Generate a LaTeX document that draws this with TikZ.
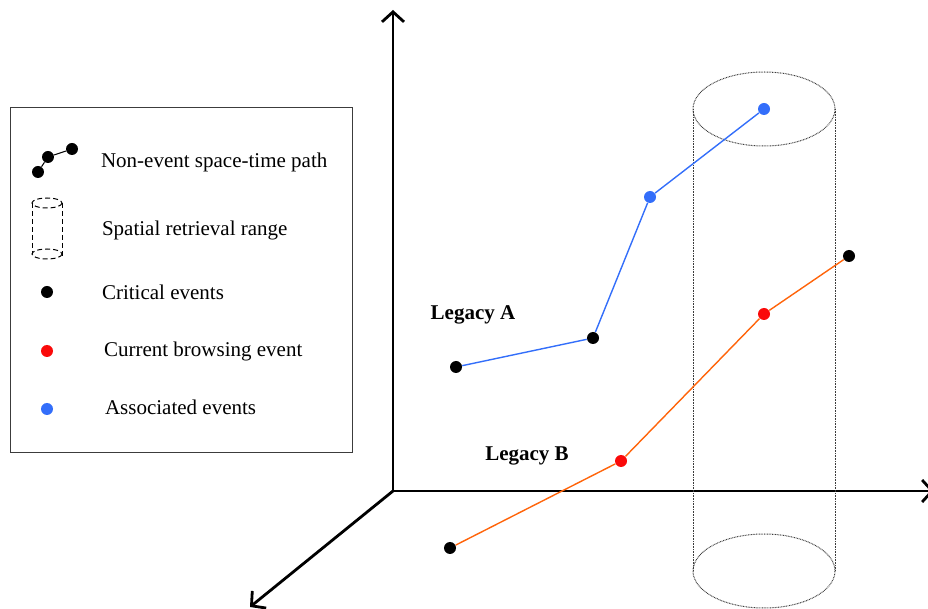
\documentclass[tikz,border=0pt]{standalone}
\usepackage{fontspec}
\setmainfont{Liberation Serif}
\usepackage{xcolor}
\usetikzlibrary{arrows.meta,positioning}
\definecolor{assocBlue}{RGB}{51,110,250}
\definecolor{browseRed}{RGB}{250,10,10}
\definecolor{legacyOrange}{RGB}{255,100,10}
\definecolor{rangeGray}{RGB}{60,60,60}
\tikzset{
  axis/.style={line width=1.4pt, -{Straight Barb[length=5pt,width=11pt,line width=1.4pt]}},
  ev/.style={circle, fill=#1, inner sep=0pt, minimum size=6pt},
  ev/.default=black,
  lbl/.style={anchor=west, font=\fontsize{10.5}{12}\selectfont},
  legacy/.style={font=\fontsize{10.5}{12}\selectfont\bfseries},
  rangeline/.style={rangeGray, dash pattern=on 0.4pt off 0.4pt, line width=0.5pt},
  iconline/.style={dash pattern=on 2.5pt off 1.5pt, line width=0.5pt}
}
\begin{document}
\begin{tikzpicture}[x=0.5pt,y=-0.5pt]
\useasboundingbox (0,0) rectangle (928,609);
% axes
\coordinate (o) at (393,491);
\coordinate (ztop) at (393,10);
\coordinate (xend) at (934,491);
\coordinate (yend) at (250,607);
\draw[axis] (o) -- (ztop);
\draw[axis] (o) -- (xend);
\draw[axis] (o) -- (yend);
% spatial retrieval range
\draw[rangeline] (764,109) ellipse [x radius=71, y radius=37];
\draw[rangeline] (764,571) ellipse [x radius=71, y radius=37];
\draw[rangeline] (693,109) -- (693,571);
\draw[rangeline] (835,109) -- (835,571);
% legacy A
\node[ev] (a1) at (456,367) {};
\node[ev] (a2) at (593,338) {};
\node[ev=assocBlue] (a3) at (650,197) {};
\node[ev=assocBlue] (a4) at (764,109) {};
\draw[assocBlue, line width=0.7pt] (a1) -- (a2) -- (a3) -- (a4);
\node[legacy] (la) at (473,315) {Legacy A};
% legacy B
\node[ev] (b1) at (450,548) {};
\node[ev=browseRed] (b2) at (621,461) {};
\node[ev=browseRed] (b3) at (764,314) {};
\node[ev] (b4) at (849,256) {};
\draw[legacyOrange, line width=0.7pt] (b1) -- (b2) -- (b3) -- (b4);
\node[legacy] (lb) at (527,456) {Legacy B};
% legend
\draw[rangeGray, line width=0.5pt, fill=white] (10,108) rectangle (352,453);
\node[ev] (p1) at (38,172) {};
\node[ev] (p2) at (48,157) {};
\node[ev] (p3) at (72,149) {};
\draw[line width=0.5pt] (p1) -- (p2) -- (p3);
\node[lbl] (t1) at (94,162) {Non-event space-time path};
\draw[iconline] (47,203) ellipse [x radius=15, y radius=5];
\draw[iconline] (47,254) ellipse [x radius=15, y radius=5];
\draw[iconline] (32,203) -- (32,254);
\draw[iconline] (62,203) -- (62,257);
\node[lbl] (t2) at (95,230) {Spatial retrieval range};
\node[ev] (d1) at (47,292) {};
\node[lbl] (t3) at (95,292) {Critical events};
\node[ev=browseRed] (d2) at (47,351) {};
\node[lbl] (t4) at (97,351) {Current browsing event};
\node[ev=assocBlue] (d3) at (47,409) {};
\node[lbl] (t5) at (98,407) {Associated events};
\end{tikzpicture}
\end{document}
